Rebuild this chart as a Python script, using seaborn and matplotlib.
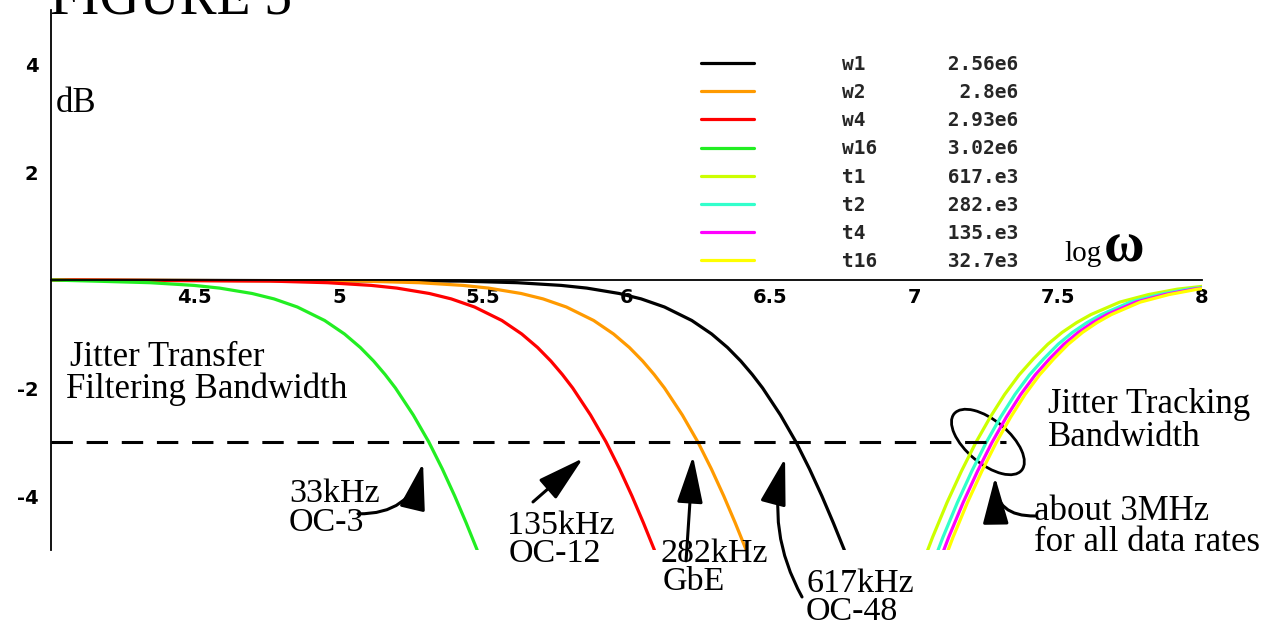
import matplotlib
matplotlib.use("Agg")
import matplotlib.pyplot as plt
import matplotlib.transforms as mtransforms
from matplotlib.patches import Ellipse
from matplotlib.ticker import MultipleLocator
import seaborn as sns

# ---------------- data ----------------
# jitter transfer (low-pass) curves: x = log(omega) at given dB levels
transfer_db = [0, -0.02, -0.05, -0.1, -0.15, -0.25, -0.35, -0.5, -0.75, -1.0,
               -1.25, -1.5, -1.75, -2.0, -2.5, -3.0, -3.5, -4.0, -4.5, -5.0]
black_x = [4.0, 5.421, 5.621, 5.773, 5.862, 5.975, 6.051, 6.132, 6.227, 6.296,
           6.351, 6.397, 6.437, 6.473, 6.535, 6.589, 6.636, 6.679, 6.719, 6.757]
orange_x = [4.0, 5.080, 5.280, 5.432, 5.521, 5.634, 5.710, 5.791, 5.886, 5.955,
            6.010, 6.056, 6.096, 6.132, 6.194, 6.248, 6.295, 6.338, 6.378, 6.416]
red_x = [4.0, 4.761, 4.961, 5.113, 5.202, 5.315, 5.391, 5.472, 5.567, 5.636,
         5.691, 5.737, 5.777, 5.813, 5.875, 5.929, 5.976, 6.019, 6.059, 6.097]
green_x = [4.0, 4.145, 4.345, 4.497, 4.586, 4.699, 4.775, 4.856, 4.951, 5.020,
           5.075, 5.121, 5.161, 5.197, 5.259, 5.313, 5.360, 5.403, 5.443, 5.481]

# jitter tracking (high-pass) curves
track_db = [-5.46, -4.76, -4.12, -3.54, -3.01, -2.54, -2.12, -1.76, -1.46,
            -1.19, -0.97, -0.79, -0.64, -0.41, -0.27, -0.17, -0.11]
yellowgreen_x = [7.014, 7.064, 7.114, 7.164, 7.214, 7.264, 7.314, 7.364, 7.414,
                 7.464, 7.514, 7.564, 7.614, 7.714, 7.814, 7.914, 8.014]
cyan_x = [7.050, 7.100, 7.150, 7.200, 7.250, 7.300, 7.350, 7.400, 7.450,
          7.500, 7.550, 7.600, 7.650, 7.750, 7.850, 7.950, 8.050]
magenta_x = [7.070, 7.120, 7.170, 7.220, 7.270, 7.320, 7.370, 7.420, 7.470,
             7.520, 7.570, 7.620, 7.670, 7.770, 7.870, 7.970, 8.070]
yellow_x = [7.085, 7.135, 7.185, 7.235, 7.285, 7.335, 7.385, 7.435, 7.485,
            7.535, 7.585, 7.635, 7.685, 7.785, 7.885, 7.985, 8.085]

series_names = ["w1", "w2", "w4", "w16", "t1", "t2", "t4", "t16"]
series_values = ["2.56e6", "2.8e6", "2.93e6", "3.02e6",
                 "617.e3", "282.e3", "135.e3", "32.7e3"]
series_colors = ["#000000", "#FF9A00", "#FF0000", "#22EE22",
                 "#CCFF00", "#33FFCC", "#FF00FF", "#FFFF00"]

x_tick_values = [4.5, 5, 5.5, 6, 6.5, 7, 7.5, 8]
x_tick_labels = ["4.5", "5", "5.5", "6", "6.5", "7", "7.5", "8"]
y_tick_values = [-4, -2, 2, 4]
y_tick_labels = ["-4", "-2", "2", "4"]

cutoff_x = [4.0, 7.32]
cutoff_db = [-3, -3]

# ---------------- figure ----------------
W, H = 1274, 631
sns.set_style("white")
plt.rcParams['font.family'] = ['DejaVu Sans']

fig = plt.figure(figsize=(W / 100, H / 100), dpi=100)
ax = fig.add_axes([51 / W, (H - 550) / H, 1151 / W, 540 / H])
ax.set_facecolor("white")

curves_x = [black_x, orange_x, red_x, green_x,
            yellowgreen_x, cyan_x, magenta_x, yellow_x]
curves_y = [transfer_db] * 4 + [track_db] * 4
for xs, ys, col in zip(curves_x, curves_y, series_colors):
    sns.lineplot(x=xs, y=ys, sort=False, estimator=None, color=col,
                 lw=2.3, ax=ax, legend=False)

ax.plot(cutoff_x, cutoff_db, color="black", lw=2.2, dashes=(7, 4.5))

ax.set_xlim(4, 8)
ax.set_ylim(-5, 5)

for s in ["top", "right"]:
    ax.spines[s].set_visible(False)
ax.spines["bottom"].set_position(("data", 0))
for s in ["bottom", "left"]:
    ax.spines[s].set_color("black")
    ax.spines[s].set_linewidth(1.3)

ax.set_xticks(x_tick_values, labels=x_tick_labels)
ax.set_yticks(y_tick_values, labels=y_tick_labels)
ax.xaxis.set_minor_locator(MultipleLocator(0.1))
ax.yaxis.set_minor_locator(MultipleLocator(0.5))
ax.tick_params(which="both", direction="in", color="black", width=1.0)
ax.tick_params(which="major", length=4.5)
ax.tick_params(which="minor", length=2.5)
ax.tick_params(axis="x", which="major", pad=6)
ax.tick_params(axis="y", which="major", pad=9)
for lab in ax.get_xticklabels() + ax.get_yticklabels():
    lab.set_fontsize(14)
    lab.set_fontweight("bold")
    lab.set_color("black")

# legend
handles = ax.get_lines()[:8]
labels = [f"{n:<7}{v:>8}" for n, v in zip(series_names, series_values)]
ax.legend(handles, labels, loc="upper left",
          bbox_to_anchor=(701 / W, 1 - 55 / H), bbox_transform=fig.transFigure,
          frameon=False, borderpad=0, borderaxespad=0,
          prop=dict(family="DejaVu Sans Mono", size=14, weight="bold"),
          handlelength=2.7, handletextpad=4.55, labelspacing=0.47)

# ---------------- texts ----------------
serif = "Liberation Serif"


def ftext(px, py, s, size=24.5, **kw):
    fig.text(px / W, 1 - py / H, s, fontsize=size, family=serif,
             va="baseline", ha="left", color="black", **kw)


ftext(50, 14, "FIGURE 5", size=40)
ftext(56, 112, "dB", size=25)
ftext(1064, 261, "log", size=21)
ftext(1104, 261, "ω", size=40, fontweight="bold")
ftext(70, 366, "Jitter Transfer", size=25)
ftext(66, 398, "Filtering Bandwidth", size=25)
ftext(1048, 413, "Jitter Tracking", size=25)
ftext(1048, 446, "Bandwidth", size=25)
ftext(289, 502, "33kHz")
ftext(289, 531, "OC-3")
ftext(507, 534, "135kHz")
ftext(509, 562, "OC-12")
ftext(661, 562, "282kHz")
ftext(663, 590, "GbE")
ftext(806, 592, "617kHz")
ftext(806, 620, "OC-48")
ftext(1034, 520, "about 3MHz", size=25)
ftext(1034, 551, "for all data rates", size=25)

# ---------------- arrows ----------------
arrow_kw = dict(arrowstyle="-|>,head_length=2.9,head_width=0.8",
                mutation_scale=10, color="black", lw=2.2,
                shrinkA=0, shrinkB=0)


def arrow(tip, tail, rad):
    ax.annotate("", xy=tip, xytext=tail, xycoords="data", textcoords="data",
                annotation_clip=False,
                arrowprops=dict(connectionstyle=f"arc3,rad={rad}", **arrow_kw))


arrow((5.293, -3.39), (5.067, -4.33), 0.4)
arrow((5.849, -3.30), (5.675, -4.11), 0.0)
arrow((6.231, -3.26), (6.207, -5.20), 0.0)
arrow((6.551, -3.30), (6.610, -5.87), -0.2)
arrow((7.281, -3.65), (7.420, -4.37), -0.5)

# ellipse around tracking crossing (drawn in pixel units)
ell = Ellipse((0, 0), 88, 43, angle=-40, fill=False, ec="black", lw=2.0,
              transform=mtransforms.ScaledTranslation(7.256, -3.0, ax.transData),
              clip_on=False)
ax.add_artist(ell)

fig.savefig("out.png", dpi=100)
